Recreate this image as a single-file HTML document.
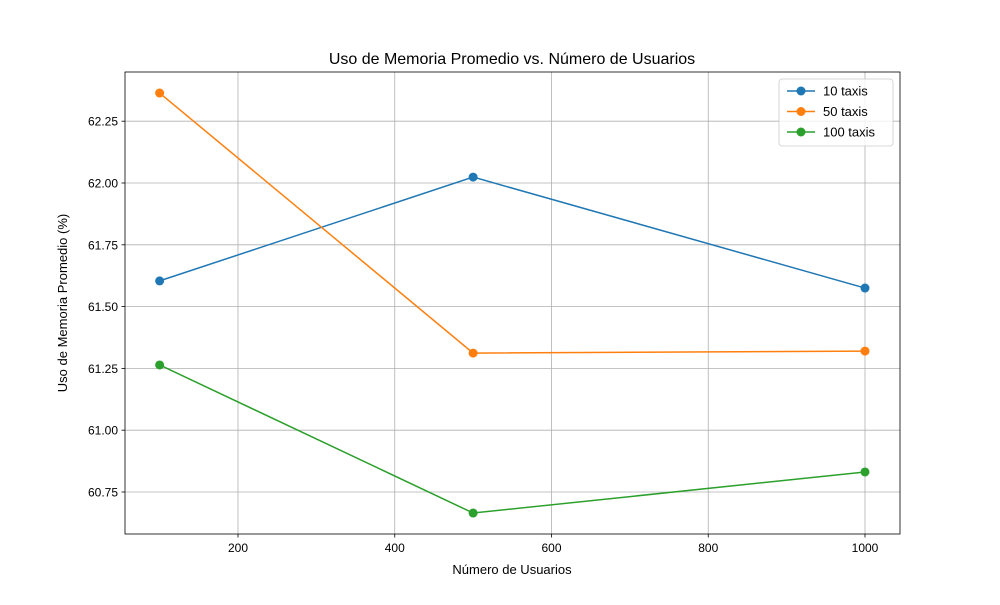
<!DOCTYPE html>
<html><head><meta charset="utf-8"><style>
body{margin:0;background:#fff}
svg text{font-family:"Liberation Sans","DejaVu Sans",sans-serif;fill:#000}
</style></head><body>
<svg id="chart" width="1000" height="600" xmlns="http://www.w3.org/2000/svg">
<rect width="1000" height="600" fill="#fff"/>
<g id="grid"></g>
<g id="axes"></g>
<g id="series"></g>
<text x="512" y="64" text-anchor="middle" font-size="16">Uso de Memoria Promedio vs. Número de Usuarios</text>
<text x="512" y="574" text-anchor="middle" font-size="13">Número de Usuarios</text>
<text transform="translate(67,303) rotate(-90)" text-anchor="middle" font-size="13">Uso de Memoria Promedio (%)</text>
<g id="legend"></g>
</svg>
<script>
const xValues=[100,500,1000];
const seriesNames=["10 taxis","50 taxis","100 taxis"];
const series10=[61.604,62.024,61.575];
const series50=[62.364,61.312,61.320];
const series100=[61.264,60.665,60.831];
const colors=["#1f77b4","#ff7f0e","#2ca02c"];
const xTicks=[200,400,600,800,1000];
const yTicks=[60.75,61.00,61.25,61.50,61.75,62.00,62.25];
const yTickLabels=["60.75","61.00","61.25","61.50","61.75","62.00","62.25"];

const L=125,R=900,T=72,B=534;
function xs(v){return 238+(v-200)*(156.75/200);}
function ys(v){return 183+(62-v)*247.2;}
const NS="http://www.w3.org/2000/svg";
function mk(t,a,p){const e=document.createElementNS(NS,t);for(const k in a)e.setAttribute(k,a[k]);p.appendChild(e);return e;}
const grid=document.getElementById('grid'),axes=document.getElementById('axes'),ser=document.getElementById('series'),leg=document.getElementById('legend');
xTicks.forEach(t=>{const x=xs(t);
 const g=mk('line',{x1:x,x2:x,y1:T,y2:B,stroke:'#b0b0b0','stroke-width':0.8},grid);
 
 
 mk('line',{x1:x,x2:x,y1:B,y2:B+3.5,stroke:'#000','stroke-width':0.8},axes);
 const tx=mk('text',{x:x,y:B+18,'text-anchor':'middle','font-size':12},axes);tx.textContent=t;
 
 });
yTicks.forEach((t,i)=>{const y=ys(t);
 const g=mk('line',{x1:L,x2:R,y1:y,y2:y,stroke:'#b0b0b0','stroke-width':0.8},grid);
 
 
 mk('line',{x1:L-3.5,x2:L,y1:y,y2:y,stroke:'#000','stroke-width':0.8},axes);
 const tx=mk('text',{x:L-7,y:y+4.5,'text-anchor':'end','font-size':12},axes);tx.textContent=yTickLabels[i];
 
 });
const fr=mk('rect',{x:L,y:T,width:R-L,height:B-T,fill:'none',stroke:'#000','stroke-width':0.8},axes);


[series10,series50,series100].forEach((d,si)=>{
 const pts=d.map((v,i)=>xs(xValues[i])+','+ys(v)).join(' ');
 const pl=mk('polyline',{points:pts,fill:'none',stroke:colors[si],'stroke-width':1.5},ser);
 
 
 d.forEach((v,i)=>{const c=mk('circle',{cx:xs(xValues[i]),cy:ys(v),r:4.5,fill:colors[si]},ser);
  
  });
});
const lb=mk('rect',{x:779,y:79,width:114,height:67,rx:3,fill:'#fff','fill-opacity':0.8,stroke:'#ccc','stroke-width':0.8},leg);


seriesNames.forEach((n,i)=>{const y=91+i*20.5;
 const g=mk('g',{},leg);
 
 
 mk('line',{x1:787,x2:815,y1:y,y2:y,stroke:colors[i],'stroke-width':1.5},g);
 mk('circle',{cx:801,cy:y,r:4.5,fill:colors[i]},g);
 const t=mk('text',{x:823,y:y+4.5,'font-size':13},g);t.textContent=n;});
</script>
</body></html>
